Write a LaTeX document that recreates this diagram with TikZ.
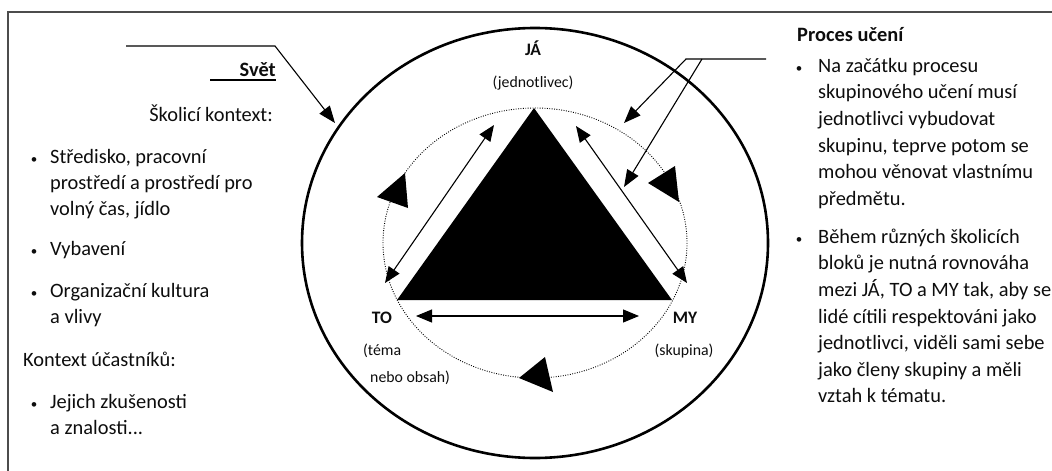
\documentclass[tikz,border=0pt]{standalone}
\usepackage{fontspec}
\setmainfont{Carlito}
\usetikzlibrary{arrows.meta}
\begin{document}
\begin{tikzpicture}[x=1pt,y=-1pt,
  txtL/.style={inner sep=0pt, align=left, font=\fontsize{20.4}{26}\selectfont, text=black!95},
  txtR/.style={inner sep=0pt, align=left, font=\fontsize{20.4}{26.6}\selectfont, text=black!95},
  head/.style={inner sep=0pt, font=\fontsize{20.4}{26}\selectfont\bfseries, text=black!95},
  lbl/.style={inner sep=0pt, font=\fontsize{15.8}{27}\selectfont, text=black!95},
  lblb/.style={inner sep=0pt, font=\fontsize{17.5}{27}\selectfont\bfseries, text=black!95},
  bul/.style={inner sep=0pt, font=\fontsize{13}{26}\selectfont, text=black!95},
  conn/.style={line width=1.1pt, -{Triangle[length=17pt,width=13pt]}},
  dbl/.style={line width=1.1pt, {Triangle[length=16pt,width=13pt]}-{Triangle[length=16pt,width=13pt]}},
  cyc/.style={fill=black},
]
\useasboundingbox (0,0) rectangle (1052,471);
% frame
\draw[line width=1.3pt, black!70] (8,471) -- (8,12) -- (1052,12);
% ellipses
\draw[line width=2.6pt] (535,243) ellipse [x radius=233, y radius=215];
\draw[line width=0.9pt, dash pattern=on 0.9pt off 1.5pt] (535,243) ellipse [x radius=152, y radius=135];
% triangle
\coordinate (ja) at (534,108);
\coordinate (to) at (397,300);
\coordinate (my) at (672,300);
\fill (ja) -- (to) -- (my) -- cycle;
% double arrows
\coordinate (l1) at (385,283); \coordinate (l2) at (494,125);
\coordinate (r1) at (576,126); \coordinate (r2) at (687,283);
\coordinate (b1) at (416,316); \coordinate (b2) at (639,316);
\draw[dbl] (l1) -- (l2);
\draw[dbl] (r1) -- (r2);
\draw[dbl] (b1) -- (b2);
% cycle arrowheads
\fill[cyc] (377,197) -- (405,173) -- (408,208) -- cycle;
\fill[cyc] (648,183) -- (675,166) -- (679,202) -- cycle;
\fill[cyc] (519,378) -- (545,357) -- (553,392) -- cycle;
% callouts
\coordinate (s1) at (126,46); \coordinate (s2) at (275,46); \coordinate (st) at (335,123);
\draw[conn] (s1) -- (s2) -- (st);
\coordinate (p1) at (766,59); \coordinate (p2) at (686,59); \coordinate (p3) at (702,59);
\coordinate (pt1) at (624,123); \coordinate (pt2) at (624,187);
\draw[conn] (p1) -- (p2) -- (pt1);
\draw[conn] (p3) -- (pt2);
% left texts
\node[head, anchor=base east] (svet) at (276,76) {Svět};
\coordinate (u1) at (210,80); \coordinate (u2) at (276,80);
\draw[line width=1.3pt] (u1) -- (u2);
\node[txtL, anchor=base east] (skol) at (273,121) {Školicí kontext:};
\node[bul, anchor=base] (lb1) at (34,163) {•};
\node[txtL, anchor=north west] (li1) at (50,144.8) {\strut Středisko, pracovní\\prostředí a prostředí pro\\volný čas, jídlo};
\node[bul, anchor=base] (lb2) at (34,255) {•};
\node[txtL, anchor=north west] (li2) at (50,236.8) {\strut Vybavení};
\node[bul, anchor=base] (lb3) at (34,297) {•};
\node[txtL, anchor=north west] (li3) at (50,278.8) {\strut Organizační kultura\\a vlivy};
\node[txtL, anchor=north west] (kon) at (23,347.8) {\strut Kontext účastníků:};
\node[bul, anchor=base] (lb4) at (34,408) {•};
\node[txtL, anchor=north west] (li4) at (50,389.8) {\strut Jejich zkušenosti\\a znalosti...};
% right texts
\node[head, anchor=base west] (proc) at (797,41) {Proces učení};
\node[bul, anchor=base] (rb1) at (799,72) {•};
\node[txtR, anchor=north west] (ri1) at (818,53.4) {\strut Na začátku procesu\\skupinového učení musí\\jednotlivci vybudovat\\skupinu, teprve potom se\\mohou věnovat vlastnímu\\předmětu.};
\node[bul, anchor=base] (rb2) at (799,243) {•};
\node[txtR, anchor=north west] (ri2) at (818,224.4) {\strut Během různých školicích\\bloků je nutná rovnováha\\mezi JÁ, TO a MY tak, aby se\\lidé cítili respektováni jako\\jednotlivci, viděli sami sebe\\jako členy skupiny a měli\\vztah k tématu.};
% centre labels
\node[lblb, anchor=base] (tja) at (533,55) {JÁ};
\node[lbl, anchor=base] (tjed) at (533,87) {(jednotlivec)};
\node[lblb, anchor=base] (tto) at (382,323) {TO};
\node[lbl, anchor=base west] (ttema) at (363,355) {(téma};
\node[lbl, anchor=base west] (tobs) at (370,382) {nebo obsah)};
\node[lblb, anchor=base] (tmy) at (685,323) {MY};
\node[lbl, anchor=base] (tsk) at (684,355) {(skupina)};
\end{tikzpicture}
\end{document}
